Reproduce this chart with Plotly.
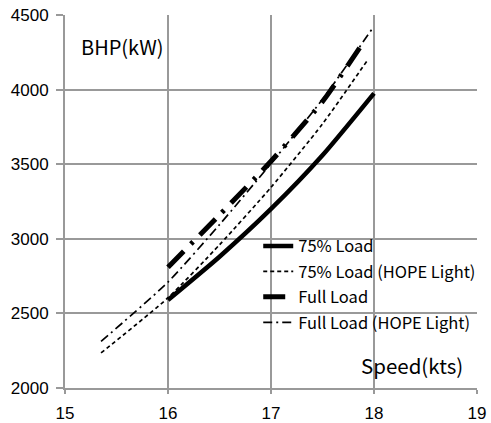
import plotly.graph_objects as go

# Speed (kts) vs. brake horsepower (kW) for each loading condition
speed_75 = [16.0, 16.5, 17.0, 17.5, 18.0]
bhp_75 = [2590, 2880, 3200, 3560, 3975]

speed_75_hope = [15.35, 16.0, 16.5, 17.0, 17.5, 17.93]
bhp_75_hope = [2235, 2605, 2960, 3345, 3770, 4190]

speed_full = [16.0, 16.5, 17.0, 17.5, 17.9]
bhp_full = [2810, 3160, 3520, 3920, 4320]

speed_full_hope = [15.35, 16.0, 16.5, 17.0, 17.5, 17.98]
bhp_full_hope = [2312, 2710, 3095, 3505, 3935, 4405]

x_ticks = [15, 16, 17, 18, 19]
y_ticks = [2000, 2500, 3000, 3500, 4000, 4500]

TEXT_FONT = "Noto Sans CJK JP"
NUM_FONT = "Liberation Sans"
GRID = "#999999"

fig = go.Figure()
fig.add_trace(go.Scatter(
    x=speed_75, y=bhp_75, mode="lines", name="75% Load", legendgroup="a",
    line=dict(color="black", width=4.5, shape="spline", smoothing=0.6),
))
fig.add_trace(go.Scatter(
    x=speed_75_hope, y=bhp_75_hope, mode="lines", name="75% Load (HOPE Light)",
    legendgroup="b",
    line=dict(color="black", width=1.7, dash="4px,3px", shape="spline", smoothing=0.6),
))
fig.add_trace(go.Scatter(
    x=speed_full, y=bhp_full, mode="lines", name="Full Load", legendgroup="c",
    line=dict(color="black", width=5, dash="22px,10px,3px,10px",
              shape="spline", smoothing=0.6),
))
fig.add_trace(go.Scatter(
    x=speed_full_hope, y=bhp_full_hope, mode="lines", name="Full Load (HOPE Light)",
    legendgroup="d",
    line=dict(color="black", width=1.7, dash="9px,4px,2px,4px",
              shape="spline", smoothing=0.6),
))

fig.add_annotation(x=0.035, y=0.915, xref="paper", yref="paper", text="BHP(kW)",
                   showarrow=False, xanchor="left", yanchor="middle",
                   font=dict(family=TEXT_FONT, size=20, color="black"))
fig.add_annotation(x=0.97, y=0.062, xref="paper", yref="paper", text="Speed(kts)",
                   showarrow=False, xanchor="right", yanchor="middle",
                   font=dict(family=TEXT_FONT, size=20.5, color="black"))

axis_common = dict(showgrid=True, gridcolor=GRID, gridwidth=2,
                   showline=True, linecolor=GRID, linewidth=2,
                   ticks="outside", tickcolor=GRID, tickwidth=2,
                   zeroline=False, automargin=False,
                   tickfont=dict(family=NUM_FONT, size=17, color="black"))

fig.update_xaxes(range=[15, 19], tickvals=x_ticks, ticklen=4,
                 ticklabelstandoff=5, **axis_common)
fig.update_yaxes(range=[2000, 4500], tickvals=y_ticks, ticklen=7,
                 ticklabelstandoff=4, **axis_common)

fig.update_layout(
    width=491, height=423,
    margin=dict(l=65, r=10, t=15, b=35),
    plot_bgcolor="white", paper_bgcolor="white",
    showlegend=True,
    legend=dict(x=0.469, y=0.427, xanchor="left", yanchor="top",
                bgcolor="rgba(0,0,0,0)", traceorder="grouped", tracegroupgap=1,
                font=dict(family=TEXT_FONT, size=16.5, color="black")),
)

fig.write_html("out.html")
